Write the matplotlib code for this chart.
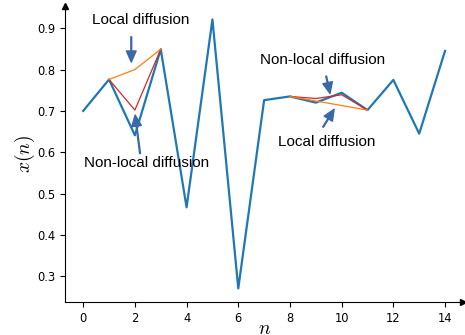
import matplotlib
matplotlib.use("Agg")
import matplotlib.pyplot as plt
import numpy as np

plt.rcParams["mathtext.fontset"] = "cm"

# main series x(n)
n = np.arange(15)
x_main = [0.700, 0.776, 0.641, 0.849, 0.467, 0.921, 0.271, 0.726,
          0.735, 0.720, 0.744, 0.702, 0.775, 0.645, 0.845]

# diffusion around n = 1..3
n_a = [1, 2, 3]
nonlocal_a = [0.776, 0.702, 0.849]
local_a = [0.776, 0.800, 0.849]

# diffusion around n = 8..11
n_b = [8, 9, 10, 11]
nonlocal_b = [0.735, 0.730, 0.739, 0.702]
local_b = [0.735, 0.724, 0.713, 0.702]

arrow_col = "#3a68a8"
label_font = "Liberation Sans"

fig = plt.figure(figsize=(4.65, 3.35), dpi=100)
ax = fig.add_axes([0.140, 0.099, 0.856, 0.883])

ax.plot(n, x_main, color="#1f77b4", lw=1.6)
ax.plot(n_a, nonlocal_a, color="#d62728", lw=0.9)
ax.plot(n_a, local_a, color="#ff7f0e", lw=0.9)
ax.plot(n_b, nonlocal_b, color="#d62728", lw=0.9)
ax.plot(n_b, local_b, color="#ff7f0e", lw=0.9)

ax.set_xticks(range(0, 15, 2))
ax.set_yticks([0.3, 0.4, 0.5, 0.6, 0.7, 0.8, 0.9])
ax.tick_params(labelsize=8.3)

for s in ["top", "right"]:
    ax.spines[s].set_visible(False)
ax.plot(1, 0, ">k", ms=5, transform=ax.transAxes, clip_on=False)
ax.plot(0, 1, "^k", ms=5, transform=ax.transAxes, clip_on=False)

ax.set_xlabel("$n$", fontsize=14, labelpad=-4)
ax.set_ylabel("$x(n)$", fontsize=14, labelpad=0)

aprops = dict(color=arrow_col, width=0.6, headwidth=7, headlength=8, shrink=0)

# annotations, left group
ax.text(2.24, 0.92, "Local diffusion", fontsize=11, family=label_font, ha="center", va="center")
ax.annotate("", xy=(1.86, 0.818), xytext=(1.86, 0.879), arrowprops=aprops)
ax.text(2.44, 0.574, "Non-local diffusion", fontsize=11, family=label_font, ha="center", va="center")
ax.annotate("", xy=(2.01, 0.690), xytext=(2.2, 0.597), arrowprops=aprops)

# annotations, right group
ax.text(9.25, 0.823, "Non-local diffusion", fontsize=11, family=label_font, ha="center", va="center")
ax.annotate("", xy=(9.55, 0.742), xytext=(9.4, 0.784), arrowprops=aprops)
ax.text(9.44, 0.624, "Local diffusion", fontsize=11, family=label_font, ha="center", va="center")
ax.annotate("", xy=(9.71, 0.704), xytext=(9.28, 0.661), arrowprops=aprops)

fig.savefig("out.png", dpi=100)
